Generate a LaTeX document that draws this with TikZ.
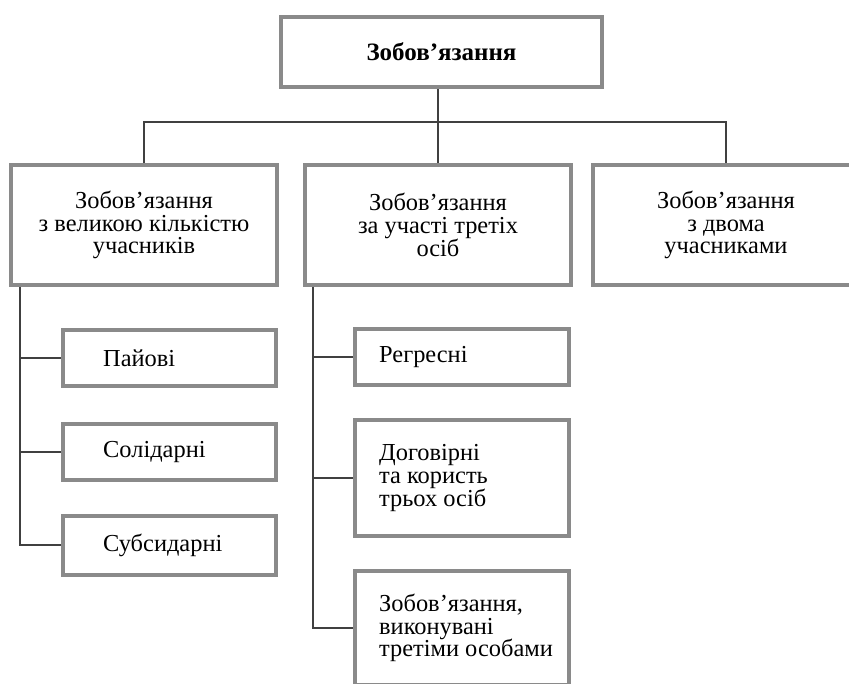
\documentclass[tikz,border=0pt]{standalone}
\usepackage{fontspec}
\setmainfont{Liberation Serif}
\definecolor{boxgray}{HTML}{8A8A8A}
\definecolor{linegray}{HTML}{404040}
\tikzset{
  frame/.style={draw=boxgray, line width=4pt, fill=white, inner sep=0pt,
    align=center, font=\fontsize{24.4}{22.8}\selectfont},
  topframe/.style={frame, font=\fontsize{25}{23}\selectfont\bfseries},
  subframe/.style={draw=boxgray, line width=4pt, fill=white, inner sep=0pt},
  lbl/.style={inner sep=0pt, anchor=west, align=left,
    font=\fontsize{24.4}{22.8}\selectfont},
  conn/.style={draw=linegray, line width=1.4pt},
}
\begin{document}
\begin{tikzpicture}[x=1pt, y=-1pt]
\clip (0,0) rectangle (849,684);
\fill[white] (0,0) rectangle (849,684);

% root
\node[topframe, minimum width=321pt, minimum height=70pt] (root) at (441.5,52) {Зобов’язання};

% second level
\node[frame, minimum width=266pt, minimum height=120pt] (many) at (144,225)
  {Зобов’язання\\з великою кількістю\\учасників};
\node[frame, minimum width=266pt, minimum height=120pt] (third) at (438,225)
  {Зобов’язання\\за участі третіх\\осіб};
\node[frame, minimum width=266pt, minimum height=120pt] (two) at (726,225)
  {Зобов’язання\\з двома\\учасниками};

% kinds of obligations with many participants
\node[subframe, minimum width=213pt, minimum height=56pt] (share) at (169.5,358) {};
\node[subframe, minimum width=213pt, minimum height=56pt] (joint) at (169.5,452) {};
\node[subframe, minimum width=213pt, minimum height=59pt] (subs) at (169.5,545) {};
\node[lbl] (shareT) at ([xshift=42pt]share.west) {Пайові};
\node[lbl] (jointT) at ([xshift=42pt]joint.west) {Солідарні};
\node[lbl] (subsT) at ([xshift=42pt]subs.west) {Субсидарні};

% kinds of obligations involving third persons
\node[subframe, minimum width=214pt, minimum height=56pt] (regr) at (462,357) {};
\node[subframe, minimum width=214pt, minimum height=116pt] (contr) at (462,478) {};
\node[subframe, minimum width=214pt, minimum height=114pt] (exec) at (462,628) {};
\node[lbl] (regrT) at ([xshift=26pt]regr.west) {Регресні};
\node[lbl] (contrT) at ([xshift=26pt]contr.west) {Договірні\\та користь\\трьох осіб};
\node[lbl] (execT) at ([xshift=26pt]exec.west) {Зобов’язання,\\виконувані\\третіми особами};

% connectors
\coordinate (bus) at (0,122);
\coordinate (spineA) at (20,0);
\coordinate (spineB) at (313,0);
\draw[conn] (third.north) -- (third.north |- root.south);
\draw[conn] (many.north) -- (many.north |- bus) -- (two.north |- bus) -- (two.north);

\draw[conn] (spineA |- many.south) -- (spineA |- subs.west) -- (subs.west);
\draw[conn] (spineA |- share.west) -- (share.west);
\draw[conn] (spineA |- joint.west) -- (joint.west);

\draw[conn] (spineB |- third.south) -- (spineB |- exec.west) -- (exec.west);
\draw[conn] (spineB |- regr.west) -- (regr.west);
\draw[conn] (spineB |- contr.west) -- (contr.west);
\end{tikzpicture}
\end{document}
